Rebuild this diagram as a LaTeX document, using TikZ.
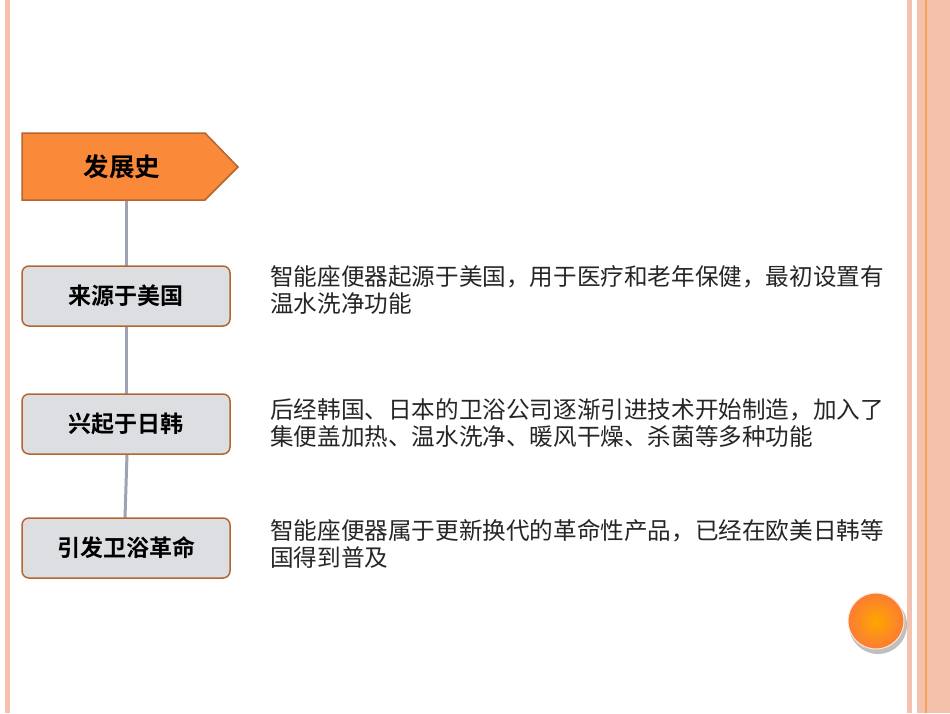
\documentclass[tikz,border=0pt]{standalone}
\usepackage{fontspec}
\newfontfamily\cjk{Noto Sans CJK SC}
\newfontfamily\cjkb{Noto Sans CJK SC Bold}
\usetikzlibrary{shadows}
\definecolor{pk}{HTML}{F6C2B0}
\definecolor{pk2}{HTML}{F2B79C}
\definecolor{og}{HTML}{FA8A3A}
\definecolor{ogb}{HTML}{B5662E}
\definecolor{gb}{HTML}{DCDEE2}
\definecolor{ln}{HTML}{9DA3B0}
\begin{document}
\begin{tikzpicture}[x=1pt,y=-1pt,
 stage/.style={draw=ogb,line width=1.5pt,fill=gb,rounded corners=7pt,minimum width=208pt,minimum height=60pt,font=\cjkb\fontsize{23}{26}\selectfont},
 desc/.style={anchor=north west,align=left,font=\cjk\fontsize{23.6}{27.5}\selectfont,text=black!85,inner sep=0pt}]
\useasboundingbox (0,0) rectangle (950,713);
\fill[white] (0,0) rectangle (950,713);
\fill[pk] (5,0) rectangle (10,713);
\fill[pk] (907,0) rectangle (912,713);
\fill[pk2!85] (917,0) rectangle (950,713);
\fill[pk2!60!orange] (925,0) rectangle (927,713);
\draw[ln,line width=3pt] (126,200) -- (126,454);
\draw[ln,line width=3pt] (127,454) -- (125,518);
\draw[draw=ogb,line width=1.5pt,fill=og] (22,133) -- (205,133) -- (238,167) -- (205,200) -- (22,200) -- cycle;
\node[font=\cjkb\fontsize{25.5}{28}\selectfont] (h) at (122,167) {发展史};
\node[stage] (a) at (126,296) {来源于美国};
\node[stage] (b) at (126,424) {兴起于日韩};
\node[stage] (c) at (126,548) {引发卫浴革命};
\node[desc] (da) at (270,265) {智能座便器起源于美国，用于医疗和老年保健，最初设置有\\温水洗净功能};
\node[desc] (db) at (270,398) {后经韩国、日本的卫浴公司逐渐引进技术开始制造，加入了\\集便盖加热、温水洗净、暖风干燥、杀菌等多种功能};
\node[desc] (dc) at (270,519) {智能座便器属于更新换代的革命性产品，已经在欧美日韩等\\国得到普及};
\fill[black!25] (878,625) circle (29);
\shade[inner color=orange!70!yellow,outer color=og!90!red] (876,621) circle (28);
\draw[white!80!og,line width=1pt] (876,621) circle (28);
\end{tikzpicture}
\end{document}
